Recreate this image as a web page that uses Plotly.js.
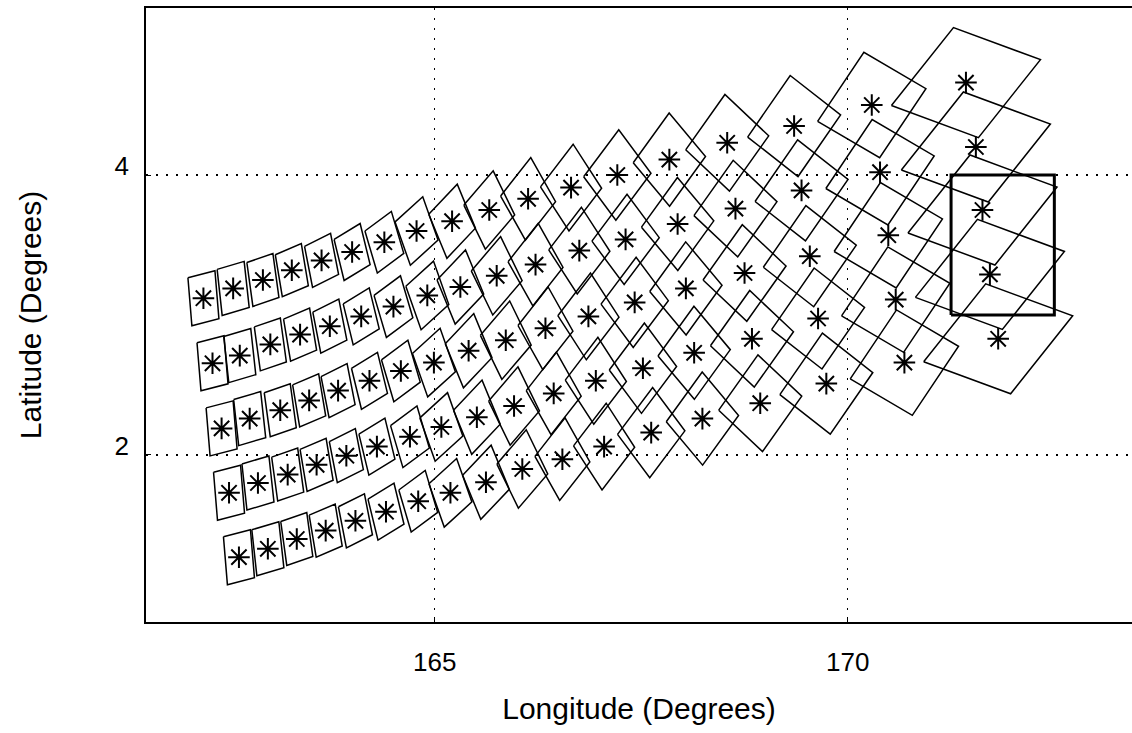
<!DOCTYPE html>
<html>
<head>
<meta charset="utf-8">
<script src="https://cdn.plot.ly/plotly-3.0.1.min.js"></script>
<style>html,body{margin:0;padding:0;background:#fff;}#chart{width:1132px;height:733px;}</style>
</head>
<body>
<div id="chart"></div>
<script>
// Footprint centres (degrees), 5 scan rows x 18 columns
const lonRow1 = [162.20,162.56,162.92,163.27,163.63,164.00,164.39,164.78,165.21,165.66,166.13,166.65,167.21,167.84,168.54,169.35,170.29,171.43];
const latRow1 = [3.12,3.19,3.25,3.32,3.39,3.45,3.52,3.60,3.67,3.75,3.83,3.91,4.00,4.11,4.23,4.35,4.50,4.66];
const lonRow2 = [162.31,162.64,163.01,163.37,163.73,164.11,164.50,164.91,165.31,165.75,166.22,166.75,167.31,167.94,168.64,169.44,170.39,171.55];
const latRow2 = [2.655,2.71,2.79,2.86,2.92,2.99,3.06,3.14,3.20,3.28,3.36,3.46,3.54,3.65,3.76,3.89,4.02,4.20];
const lonRow3 = [162.42,162.76,163.13,163.48,163.83,164.21,164.59,164.99,165.41,165.86,166.34,166.86,167.42,168.04,168.75,169.54,170.49,171.63];
const latRow3 = [2.19,2.26,2.32,2.39,2.46,2.53,2.60,2.66,2.745,2.82,2.905,2.99,3.09,3.19,3.30,3.42,3.57,3.75];
const lonRow4 = [162.51,162.86,163.22,163.57,163.93,164.30,164.70,165.08,165.51,165.96,166.44,166.95,167.52,168.14,168.84,169.64,170.58,171.72];
const latRow4 = [1.73,1.80,1.86,1.93,1.995,2.06,2.13,2.20,2.27,2.35,2.44,2.53,2.62,2.73,2.83,2.975,3.11,3.29];
const lonRow5 = [162.63,162.98,163.33,163.68,164.04,164.41,164.80,165.19,165.62,166.06,166.545,167.05,167.62,168.24,168.94,169.74,170.685,171.82];
const latRow5 = [1.27,1.33,1.40,1.46,1.53,1.595,1.67,1.73,1.805,1.90,1.97,2.06,2.16,2.26,2.37,2.51,2.66,2.83];

// Footprint edge vectors per column (degrees): edge A (left->top corner), edge B (left->bottom corner)
const edgeAx = [0.327,0.327,0.315,0.315,0.315,0.315,0.320,0.335,0.345,0.355,0.365,0.395,0.425,0.435,0.475,0.515,0.560,0.751];
const edgeAy = [0.050,0.057,0.064,0.079,0.093,0.114,0.140,0.180,0.215,0.245,0.275,0.305,0.335,0.355,0.395,0.440,0.493,0.557];
const edgeBx = [0.048,0.061,0.073,0.085,0.097,0.121,0.150,0.185,0.220,0.260,0.300,0.345,0.390,0.440,0.530,0.610,0.751,1.053];
const edgeBy = [-0.343,-0.329,-0.314,-0.300,-0.293,-0.293,-0.300,-0.310,-0.315,-0.315,-0.315,-0.315,-0.310,-0.310,-0.295,-0.282,-0.260,-0.229];

// Highlighted box (degrees)
const boxLon = [171.25, 172.5];
const boxLat = [3.0, 4.0];

const lonRows = [lonRow1,lonRow2,lonRow3,lonRow4,lonRow5];
const latRows = [latRow1,latRow2,latRow3,latRow4,latRow5];

const fx = [], fy = [], sx = [], sy = [];
for (let r = 0; r < lonRows.length; r++) {
  for (let c = 0; c < lonRows[r].length; c++) {
    const cx = lonRows[r][c], cy = latRows[r][c];
    sx.push(cx); sy.push(cy);
    const lx = cx - (edgeAx[c] + edgeBx[c]) / 2;
    const ly = cy - (edgeAy[c] + edgeBy[c]) / 2;
    fx.push(lx, lx + edgeAx[c], lx + edgeAx[c] + edgeBx[c], lx + edgeBx[c], lx, null);
    fy.push(ly, ly + edgeAy[c], ly + edgeAy[c] + edgeBy[c], ly + edgeBy[c], ly, null);
  }
}

const FONT = 'Liberation Sans, Arial, Helvetica, sans-serif';
const traces = [
  {x: fx, y: fy, type: 'scatter', mode: 'lines', line: {color: '#000', width: 1.5}, hoverinfo: 'skip', showlegend: false},
  {x: sx, y: sy, type: 'scatter', mode: 'markers',
   marker: {symbol: 'asterisk-open', size: 18, color: '#000', line: {color: '#000', width: 2}}, showlegend: false},
  {x: [boxLon[0], boxLon[1], boxLon[1], boxLon[0], boxLon[0]],
   y: [boxLat[0], boxLat[0], boxLat[1], boxLat[1], boxLat[0]],
   type: 'scatter', mode: 'lines', line: {color: '#000', width: 3}, showlegend: false}
];

const layout = {
  width: 1132, height: 733,
  margin: {l: 146, r: 0, t: 8, b: 111},
  paper_bgcolor: '#fff', plot_bgcolor: '#fff',
  font: {family: FONT, color: '#000', size: 24},
  showlegend: false,
  xaxis: {
    range: [161.505, 173.44],
    tickvals: [165, 170], ticktext: ['165', '170'],
    showgrid: true, gridcolor: '#000', griddash: '2px,8px', gridwidth: 1.2,
    zeroline: false, showline: true, linecolor: '#000', linewidth: 1.8, mirror: true,
    ticks: 'inside', ticklen: 5, tickcolor: '#000',
    ticklabelstandoff: 16,
    tickfont: {size: 26, family: FONT},
    title: {text: 'Longitude (Degrees)', font: {size: 30, family: FONT}, standoff: 22}
  },
  yaxis: {
    range: [0.807, 5.193],
    tickvals: [2, 4], ticktext: ['2', '4'],
    showgrid: true, gridcolor: '#000', griddash: '2px,8px', gridwidth: 1.2,
    zeroline: false, showline: true, linecolor: '#000', linewidth: 1.8, mirror: false,
    ticks: 'inside', ticklen: 5, tickcolor: '#000',
    ticklabelstandoff: 10,
    ticklabelshift: -9,
    tickfont: {size: 26, family: FONT},
    title: {text: 'Latitude (Degrees)', font: {size: 30, family: FONT}, standoff: 64}
  }
};

Plotly.newPlot('chart', traces, layout, {displayModeBar: false, staticPlot: true});
</script>
</body>
</html>
